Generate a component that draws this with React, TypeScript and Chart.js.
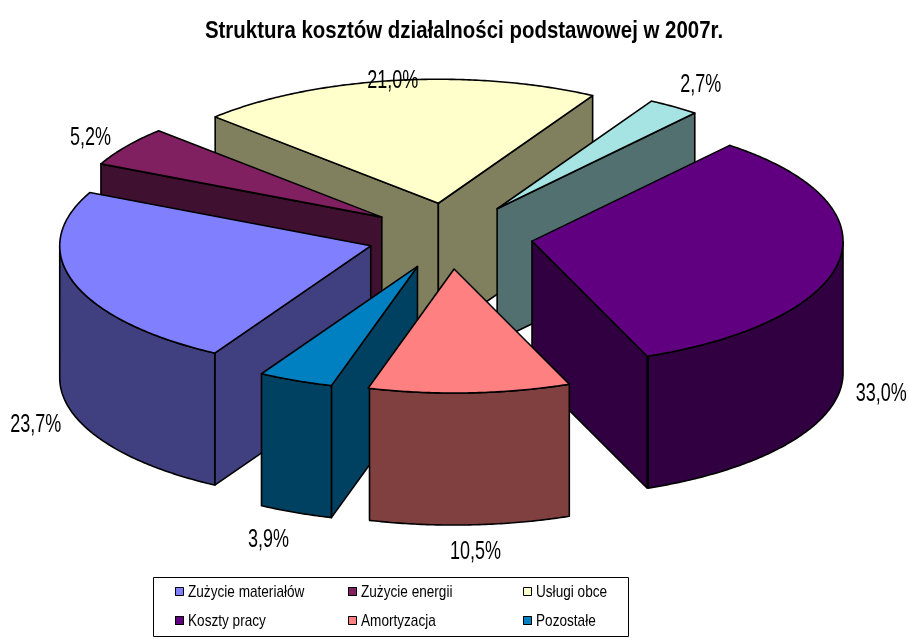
import React, { useEffect, useRef } from "react";
import { Chart, registerables } from "chart.js";

Chart.register(...registerables);

const chartTitle = "Struktura kosztów działalności podstawowej w 2007r.";
const categories = ["Zużycie materiałów", "Zużycie energii", "Usługi obce", "", "Koszty pracy", "Amortyzacja", "Pozostałe"];
const shares = [23.7, 5.2, 21.0, 2.7, 33.0, 10.5, 3.9];
const topColors = ["#8080FF", "#802060", "#FFFFCC", "#A6E3E3", "#600080", "#FF8080", "#0080C0"];
const wallColors = ["#404080", "#401030", "#80805F", "#527070", "#300040", "#804040", "#004060"];
const labelNudgeX = [-38, -36, -2, 27, 42, 6, -27];
const labelNudgeY = [143, -8, 1, -22, 134, 159, 160];

const FONT = '"Liberation Sans", Arial, sans-serif';
const CX = 450, CY = 236, RX = 311, RY = 124, DEPTH = 132, EXPLODE = 83;

const drawText = (
  ctx: CanvasRenderingContext2D,
  text: string,
  x: number,
  y: number,
  font: string,
  scaleX: number,
  align: CanvasTextAlign,
) => {
  ctx.save();
  ctx.translate(x, y);
  ctx.scale(scaleX, 1);
  ctx.font = font;
  ctx.fillStyle = "#000";
  ctx.textAlign = align;
  ctx.textBaseline = "middle";
  ctx.fillText(text, 0, 0);
  ctx.restore();
};

const geom = (arc: any) => {
  const sx = RX / arc.outerRadius;
  const sy = RY / arc.outerRadius;
  const mid = (arc.startAngle + arc.endAngle) / 2;
  const ox = CX + EXPLODE * Math.cos(mid);
  const oy = CY + (EXPLODE * RY * Math.sin(mid)) / RX;
  const pt = (a: number, k: number) => ({
    x: ox + k * RX * Math.cos(a),
    y: oy + k * RY * Math.sin(a),
  });
  return { sx, sy, mid, ox, oy, pt };
};

const poly = (ctx: CanvasRenderingContext2D, pts: { x: number; y: number }[], fill: string | null) => {
  ctx.beginPath();
  pts.forEach((p, i) => (i ? ctx.lineTo(p.x, p.y) : ctx.moveTo(p.x, p.y)));
  ctx.closePath();
  if (fill) {
    ctx.fillStyle = fill;
    ctx.fill();
  }
  ctx.strokeStyle = "#000";
  ctx.lineWidth = 1.6;
  ctx.lineJoin = "round";
  ctx.stroke();
};

const rim = (arc: any, from: number, to: number) => {
  const { pt } = geom(arc);
  const n = Math.max(2, Math.ceil((to - from) / 0.01));
  const out = [];
  for (let i = 0; i <= n; i++) out.push(pt(from + ((to - from) * i) / n, 1));
  return out;
};

const pie3d = {
  id: "pie3d",
  // The slices are painted below through their own ArcElements, under the 3D transform.
  beforeDatasetDraw() {
    return false;
  },
  afterDatasetsDraw(chart: any) {
    const ctx: CanvasRenderingContext2D = chart.ctx;
    const arcs: any[] = chart.getDatasetMeta(0).data;
    const byDepth = [...arcs].sort((a, b) => Math.sin(geom(a).mid) - Math.sin(geom(b).mid));
    byDepth.forEach((arc) => {
      const color = wallColors[arc.$context.index];
      const { pt } = geom(arc);
      const apex = pt(0, 0);
      const down = (p: { x: number; y: number }) => ({ x: p.x, y: p.y + DEPTH });
      const wall = (a: number) => {
        const p = pt(a, 1);
        poly(ctx, [apex, p, down(p), down(apex)], color);
      };
      if (Math.sin(arc.startAngle - Math.PI / 2) > 0) wall(arc.startAngle);
      if (Math.sin(arc.endAngle + Math.PI / 2) > 0) wall(arc.endAngle);
      const step = 0.005;
      let run: number[] = [];
      const flush = () => {
        if (run.length > 1) {
          const top = rim(arc, run[0], run[run.length - 1]);
          poly(ctx, [...top, ...top.slice().reverse().map(down)], color);
        }
        run = [];
      };
      for (let a = arc.startAngle; a <= arc.endAngle; a += step) {
        if (Math.sin(a) >= 0) run.push(a);
        else flush();
      }
      flush();
    });
    arcs.forEach((arc) => {
      const { sx, sy, ox, oy, pt } = geom(arc);
      ctx.save();
      ctx.translate(ox, oy);
      ctx.scale(sx, sy);
      ctx.translate(-arc.x, -arc.y);
      arc.draw(ctx, chart.chartArea);
      ctx.restore();
      poly(ctx, [pt(0, 0), ...rim(arc, arc.startAngle, arc.endAngle)], null);
    });
    arcs.forEach((arc, i) => {
      const { pt, mid } = geom(arc);
      const p = pt(mid, 1);
      const text = shares[i].toFixed(1).replace(".", ",") + "%";
      drawText(ctx, text, p.x + labelNudgeX[i], p.y + labelNudgeY[i], `25px ${FONT}`, 0.72, "center");
    });
  },
  afterDraw(chart: any) {
    const ctx: CanvasRenderingContext2D = chart.ctx;
    drawText(ctx, chartTitle, 464, 31, `bold 24px ${FONT}`, 0.852, "center");
    ctx.save();
    ctx.strokeStyle = "#000";
    ctx.lineWidth = 1;
    ctx.strokeRect(153.5, 577.5, 475, 59);
    let slot = 0;
    categories.forEach((name, i) => {
      if (!name) return;
      const col = slot % 3;
      const row = Math.floor(slot / 3);
      const x = [175, 348, 523][col];
      const y = [592, 621][row];
      ctx.fillStyle = topColors[i];
      ctx.fillRect(x, y - 5, 9, 9);
      ctx.strokeRect(x + 0.5, y - 4.5, 8, 8);
      drawText(ctx, name, x + 13, y, `17px ${FONT}`, 0.8, "left");
      slot++;
    });
    ctx.restore();
  },
};

export default function App() {
  const ref = useRef<HTMLCanvasElement>(null);
  useEffect(() => {
    document.body.style.margin = "0";
    const chart = new Chart(ref.current!, {
      type: "pie",
      data: {
        labels: categories,
        datasets: [
          {
            data: shares,
            backgroundColor: topColors,
            borderWidth: 0,
          } as any,
        ],
      },
      options: {
        responsive: false,
        animation: false,
        events: [],
        rotation: 210.1,
        plugins: {
          legend: { display: false },
          tooltip: { enabled: false },
          title: { display: false },
        },
      },
      plugins: [pie3d],
    });
    return () => chart.destroy();
  }, []);
  return (
    <div style={{ position: "absolute", left: 0, top: 0, width: 909, height: 639, background: "#fff" }}>
      <canvas ref={ref} width={909} height={639} style={{ display: "block" }} />
    </div>
  );
}
